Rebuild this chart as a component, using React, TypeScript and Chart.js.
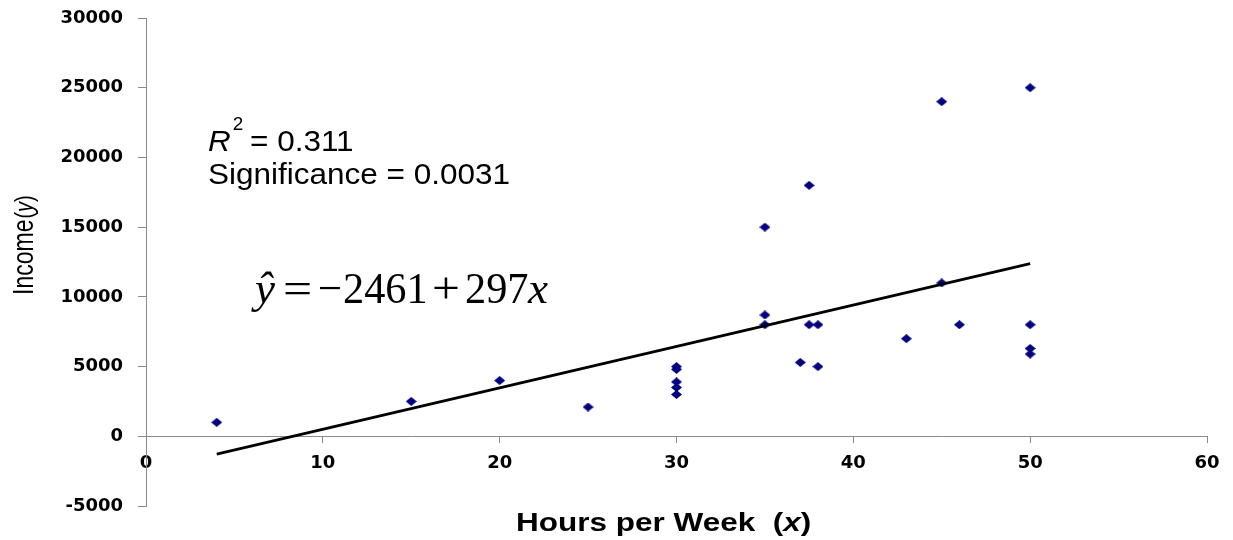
import React, { useEffect, useRef } from "react";
import { Chart, registerables } from "chart.js";

Chart.register(...registerables);

// ---- data ----
const hours = [4, 15, 20, 25, 30, 30, 30, 30, 30, 35, 35, 35, 37, 37.5, 37.5, 38, 38, 43, 45, 45, 46, 50, 50, 50, 50];
const income = [1000, 2500, 4000, 2100, 5000, 4800, 3900, 3500, 3000, 15000, 8700, 8000, 5300, 18000, 8000, 8000, 5000, 7000, 24000, 11000, 8000, 25000, 8000, 6300, 5900];
const trendHours = [4, 50];
const trendIncome = [-1273, 12389];

const xMin = 0;
const xMax = 60;
const xStep = 10;
const yMin = -5000;
const yMax = 30000;
const yStep = 5000;

const xTitle = "Hours per Week  ";
const xTitleVar = "x";
const yTitle = "Income";
const yTitleVar = "y";
const rSquaredText = "= 0.311";
const significanceText = "Significance = 0.0031";
const interceptText = "2461";
const slopeText = "297";

function makeDiamond(w: number, h: number, color: string) {
  const c = document.createElement("canvas");
  c.width = w;
  c.height = h;
  const g = c.getContext("2d")!;
  g.fillStyle = color;
  g.beginPath();
  g.moveTo(w / 2, 0);
  g.lineTo(w, h / 2);
  g.lineTo(w / 2, h);
  g.lineTo(0, h / 2);
  g.closePath();
  g.fill();
  return c;
}

const annotationPlugin = {
  id: "annotations",
  afterDraw(chart: any) {
    const ctx = chart.ctx as CanvasRenderingContext2D;
    ctx.save();
    ctx.fillStyle = "#000";
    ctx.textAlign = "left";
    ctx.textBaseline = "alphabetic";

    // R^2 and significance
    ctx.save();
    ctx.translate(208, 151);
    ctx.scale(1.05, 1);
    ctx.font = 'italic 30px "Liberation Sans", Arial, sans-serif';
    ctx.fillText("R", 0, 0);
    ctx.font = '18px "Liberation Sans", Arial, sans-serif';
    ctx.fillText("2", 23.5, -21);
    ctx.font = '30px "Liberation Sans", Arial, sans-serif';
    ctx.fillText(rSquaredText, 40, 0);
    ctx.fillText(significanceText, 0, 33);
    ctx.restore();

    // regression equation
    const base = 303;
    const piece = (t: string, x: number, italic: boolean, sx: number) => {
      ctx.save();
      ctx.translate(x, base);
      ctx.scale(sx, 1);
      ctx.font = (italic ? "italic " : "") + '45px "Liberation Serif", "Times New Roman", serif';
      ctx.fillText(t, 0, 0);
      ctx.restore();
    };
    piece("\u0177", 255, true, 1);
    piece("=", 283, false, 1.15);
    piece("\u2212", 318, false, 0.95);
    piece(interceptText, 343, false, 0.94);
    piece("+", 432, false, 1.1);
    piece(slopeText, 465, false, 0.94);
    piece("x", 528, true, 1);

    // x axis title
    ctx.save();
    ctx.translate(516, 531);
    ctx.scale(1.26, 1);
    ctx.font = 'bold 25px "Liberation Sans", Arial, sans-serif';
    let w = ctx.measureText(xTitle).width;
    ctx.fillText(xTitle, 0, 0);
    ctx.fillText("(", w, 0);
    w += ctx.measureText("(").width;
    ctx.font = 'italic bold 25px "Liberation Sans", Arial, sans-serif';
    ctx.fillText(xTitleVar, w, 0);
    w += ctx.measureText(xTitleVar).width;
    ctx.font = 'bold 25px "Liberation Sans", Arial, sans-serif';
    ctx.fillText(")", w, 0);
    ctx.restore();

    // y axis title
    ctx.save();
    ctx.translate(33, 295);
    ctx.rotate(-Math.PI / 2);
    ctx.scale(1, 1.27);
    ctx.font = '23px "Liberation Sans", Arial, sans-serif';
    let wy = ctx.measureText(yTitle).width;
    ctx.fillText(yTitle, 0, 0);
    wy += 1;
    ctx.font = '20px "Liberation Sans", Arial, sans-serif';
    ctx.fillText("(", wy, 0);
    wy += ctx.measureText("(").width;
    ctx.font = 'italic 20px "Liberation Sans", Arial, sans-serif';
    ctx.fillText(yTitleVar, wy, 0);
    wy += ctx.measureText(yTitleVar).width;
    ctx.font = '20px "Liberation Sans", Arial, sans-serif';
    ctx.fillText(")", wy, 0);
    ctx.restore();

    ctx.restore();
  },
};

export default function App() {
  const canvasRef = useRef<HTMLCanvasElement | null>(null);

  useEffect(() => {
    const canvas = canvasRef.current;
    if (!canvas) return;
    const diamond = makeDiamond(11, 9, "#000080");
    const tickFont = { family: '"DejaVu Sans", Verdana, sans-serif', weight: "bold" as const, size: 18 };
    const axisGrey = "#8a8a8a";

    const chart = new Chart(canvas, {
      type: "scatter",
      data: {
        datasets: [
          {
            label: "Regression",
            data: trendHours.map((x, i) => ({ x, y: trendIncome[i] })),
            showLine: true,
            borderColor: "#000",
            borderWidth: 2.8,
            pointRadius: 0,
            fill: false,
            order: 0,
          },
          {
            label: "Income",
            data: hours.map((x, i) => ({ x, y: income[i] })),
            pointStyle: diamond as any,
            pointRadius: 5,
            backgroundColor: "#000080",
            borderColor: "#000080",
            order: 1,
          },
        ],
      },
      options: {
        responsive: false,
        animation: false,
        layout: { padding: { left: 0, right: 26, top: 18, bottom: 34 } },
        plugins: {
          legend: { display: false },
          tooltip: { enabled: false },
        },
        scales: {
          x: {
            type: "linear",
            min: xMin,
            max: xMax,
            position: { y: 0 } as any,
            ticks: {
              stepSize: xStep,
              color: "#000",
              font: tickFont,
              padding: 10,
              maxRotation: 0,
              callback: (v: any) => String(v),
            },
            grid: { drawOnChartArea: false, drawTicks: true, tickLength: 6, color: axisGrey, lineWidth: 1 },
            border: { display: true, color: axisGrey, width: 1 },
            afterFit: (s: any) => {
              s.height = 0;
              s.paddingLeft = 0;
              s.paddingRight = 0;
              s.paddingTop = 0;
              s.paddingBottom = 0;
            },
          },
          y: {
            type: "linear",
            min: yMin,
            max: yMax,
            position: "left",
            ticks: {
              stepSize: yStep,
              color: "#000",
              font: tickFont,
              padding: 15,
              callback: (v: any) => String(v),
            },
            grid: { drawOnChartArea: false, drawTicks: true, tickLength: 8, color: axisGrey, lineWidth: 1 },
            border: { display: true, color: axisGrey, width: 1 },
            afterFit: (s: any) => {
              s.width = 146;
              s.paddingTop = 0;
              s.paddingBottom = 0;
            },
          },
        },
      },
      plugins: [annotationPlugin],
    });

    return () => {
      chart.destroy();
    };
  }, []);

  return (
    <div style={{ position: "absolute", left: 0, top: 0, width: 1233, height: 540, background: "#fff" }}>
      <canvas ref={canvasRef} width={1233} height={540} />
    </div>
  );
}
